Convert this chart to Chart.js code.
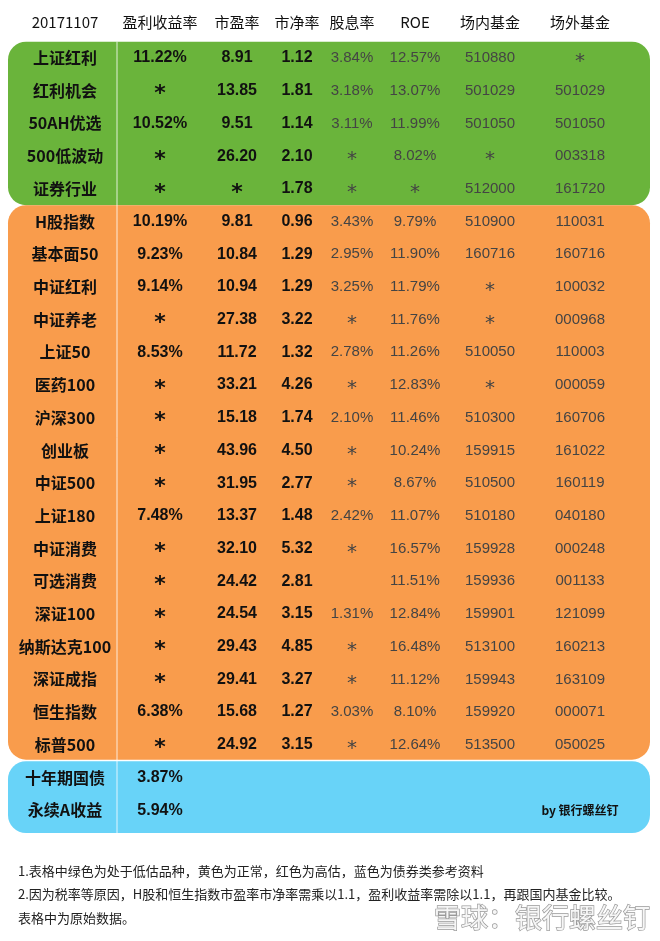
<!DOCTYPE html>
<html>
<head>
<meta charset="utf-8">
<script src="https://cdn.jsdelivr.net/npm/chart.js@4.4.0/dist/chart.umd.min.js"></script>
<style>
  html, body { margin: 0; padding: 0; background: #fff; }
  #wrap { width: 660px; height: 941px; }
</style>
</head>
<body>
<div id="wrap"><canvas id="tbl"></canvas></div>
<script>
// data
const headers = ['20171107', '盈利收益率', '市盈率', '市净率', '股息率', 'ROE', '场内基金', '场外基金'];
const names = ['上证红利', '红利机会', '50AH优选', '500低波动', '证券行业',
    'H股指数', '基本面50', '中证红利', '中证养老', '上证50', '医药100', '沪深300', '创业板', '中证500',
    '上证180', '中证消费', '可选消费', '深证100', '纳斯达克100', '深证成指', '恒生指数', '标普500',
    '十年期国债', '永续A收益'];
const earnYield = ['11.22%', '*', '10.52%', '*', '*',
    '10.19%', '9.23%', '9.14%', '*', '8.53%', '*', '*', '*', '*', '7.48%', '*', '*', '*', '*', '*', '6.38%', '*',
    '3.87%', '5.94%'];
const pe = ['8.91', '13.85', '9.51', '26.20', '*',
    '9.81', '10.84', '10.94', '27.38', '11.72', '33.21', '15.18', '43.96', '31.95', '13.37', '32.10', '24.42',
    '24.54', '29.43', '29.41', '15.68', '24.92', '', ''];
const pb = ['1.12', '1.81', '1.14', '2.10', '1.78',
    '0.96', '1.29', '1.29', '3.22', '1.32', '4.26', '1.74', '4.50', '2.77', '1.48', '5.32', '2.81',
    '3.15', '4.85', '3.27', '1.27', '3.15', '', ''];
const dividend = ['3.84%', '3.18%', '3.11%', '*', '*',
    '3.43%', '2.95%', '3.25%', '*', '2.78%', '*', '2.10%', '*', '*', '2.42%', '*', '',
    '1.31%', '*', '*', '3.03%', '*', '', ''];
const roe = ['12.57%', '13.07%', '11.99%', '8.02%', '*',
    '9.79%', '11.90%', '11.79%', '11.76%', '11.26%', '12.83%', '11.46%', '10.24%', '8.67%', '11.07%', '16.57%', '11.51%',
    '12.84%', '16.48%', '11.12%', '8.10%', '12.64%', '', ''];
const etfCode = ['510880', '501029', '501050', '*', '512000',
    '510900', '160716', '*', '*', '510050', '*', '510300', '159915', '510500', '510180', '159928', '159936',
    '159901', '513100', '159943', '159920', '513500', '', ''];
const otcCode = ['*', '501029', '501050', '003318', '161720',
    '110031', '160716', '100032', '000968', '110003', '000059', '160706', '161022', '160119', '040180', '000248', '001133',
    '121099', '160213', '163109', '000071', '050025', '', 'by 银行螺丝钉'];
// row groups: [first row, last row, colour]
const groups = [[1, 5, '#6ab43b'], [6, 22, '#f99c4c'], [23, 24, '#68d3f8']];
const notes = [
    '1.表格中绿色为处于低估品种，黄色为正常，红色为高估，蓝色为债券类参考资料',
    '2.因为税率等原因，H股和恒生指数市盈率市净率需乘以1.1，盈利收益率需除以1.1，再跟国内基金比较。',
    '表格中为原始数据。'
];

const columns = [names, earnYield, pe, pb, dividend, roe, etfCode, otcCode];
const colX = [65, 160, 237, 297, 352, 415, 490, 580];
const boldCols = 4;

const tablePlugin = {
    id: 'tablePlugin',
    afterDraw(chart) {
        const ctx = chart.ctx;
        const xs = chart.scales.x, ys = chart.scales.y;
        ctx.save();
        // background groups
        groups.forEach((g, i) => {
            const top = ys.getPixelForValue(g[0] - 0.5);
            const bot = ys.getPixelForValue(g[1] + 0.5 + (i === 2 ? 0.2 : 0));
            ctx.fillStyle = g[2];
            ctx.beginPath();
            ctx.roundRect(xs.getPixelForValue(8), top, xs.getPixelForValue(650) - xs.getPixelForValue(8), bot - top - (i === 1 ? 1.5 : 0), 18);
            ctx.fill();
        });
        // separator line
        ctx.strokeStyle = 'rgba(255,255,255,0.8)';
        ctx.lineWidth = 1;
        ctx.beginPath();
        ctx.moveTo(xs.getPixelForValue(117), ys.getPixelForValue(0.5));
        ctx.lineTo(xs.getPixelForValue(117), ys.getPixelForValue(24.7));
        ctx.stroke();

        ctx.textAlign = 'center';
        ctx.textBaseline = 'middle';
        // header
        ctx.fillStyle = '#111';
        ctx.font = '15px "Noto Sans CJK SC", "Liberation Sans", sans-serif';
        headers.forEach((h, c) => ctx.fillText(h, xs.getPixelForValue(colX[c]), ys.getPixelForValue(0) - 3));
        // cells
        columns.forEach((col, c) => {
            col.forEach((v, r) => {
                if (!v) return;
                const y = ys.getPixelForValue(r + 1);
                const x = xs.getPixelForValue(colX[c]);
                const bold = c < boldCols;
                ctx.fillStyle = bold ? '#111' : '#444';
                if (v === '*') {
                    ctx.font = (bold ? 'bold 22px' : '20px') + ' "DejaVu Sans", sans-serif';
                    ctx.fillText(v, x, y + 4);
                    return;
                }
                if (v.startsWith('by')) {
                    ctx.fillStyle = '#111';
                    ctx.font = 'bold 12px "Noto Sans CJK SC", sans-serif';
                    ctx.fillText(v, x, y);
                    return;
                }
                ctx.font = (bold ? 'bold 16px' : '15px') + ' "Liberation Sans", "Noto Sans CJK SC", sans-serif';
                if (c === 0) ctx.font = 'bold 16px "Noto Sans CJK SC", sans-serif';
                ctx.fillText(v, x, y);
            });
        });
        // notes
        ctx.textAlign = 'left';
        ctx.fillStyle = '#222';
        ctx.font = '13px "Noto Sans CJK SC", sans-serif';
        notes.forEach((n, i) => ctx.fillText(n, xs.getPixelForValue(18), ys.getPixelForValue(25.85 + i * 0.72)));
        // watermark
        ctx.font = '27px "Noto Sans CJK SC", sans-serif';
        ctx.textAlign = 'right';
        ctx.lineWidth = 1.4;
        ctx.strokeStyle = '#999';
        ctx.fillStyle = '#f6f6f6';
        const wy = ys.getPixelForValue(27.3);
        ctx.strokeText('雪球：银行螺丝钉', xs.getPixelForValue(650), wy);
        ctx.fillText('雪球：银行螺丝钉', xs.getPixelForValue(650), wy);
        ctx.restore();
    }
};

new Chart(document.getElementById('tbl'), {
    type: 'scatter',
    data: { datasets: [{ data: [], pointRadius: 0 }] },
    options: {
        responsive: true,
        maintainAspectRatio: false,
        animation: false,
        layout: { padding: 0 },
        plugins: { legend: { display: false }, tooltip: { enabled: false } },
        scales: {
            x: { type: 'linear', min: 0, max: 660, display: false },
            y: { type: 'linear', min: -0.774, max: 28.0, reverse: true, display: false }
        }
    },
    plugins: [tablePlugin]
});
</script>
</body>
</html>
